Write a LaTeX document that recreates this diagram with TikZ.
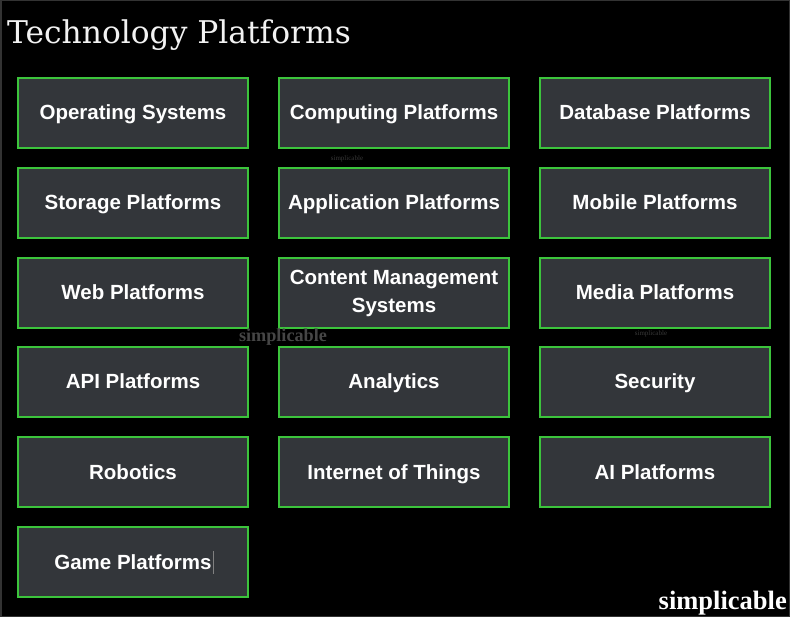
\documentclass[tikz,border=0pt]{standalone}
\usepackage{fontspec}
\setmainfont{Liberation Sans}
\newfontfamily\titlefont{DejaVu Serif}
\newfontfamily\markfont{Liberation Serif}
\definecolor{boxfill}{HTML}{33363A}
\definecolor{boxedge}{HTML}{3CC43C}
\definecolor{titlegray}{HTML}{F2F2F2}
\begin{document}
\begin{tikzpicture}[x=1pt, y=-1pt,
    platbox/.style={draw=boxedge, line width=2pt, fill=boxfill, minimum width=230pt,
        minimum height=70pt, inner sep=0pt, align=center, text=white,
        font=\fontsize{20.5}{28}\selectfont\bfseries},
    oneline/.style={platbox, text height=14pt, text depth=0pt}]
    % background with a thin frame
    \fill[black] (0,0) rectangle (790,617);
    \draw[gray!40!black, line width=1.5pt] (0.75,0.75) rectangle (789.25,616.25);
    \node[anchor=base west, text=titlegray, inner sep=0pt, font=\titlefont\fontsize{31.3}{36}\selectfont]
        (title) at (7,44) {Technology Platforms};
    % column 1
    \node[oneline] (os) at (133,113) {Operating Systems};
    \node[oneline] (storage) at (133,203) {Storage Platforms};
    \node[oneline] (web) at (133,293) {Web Platforms};
    \node[oneline] (api) at (133,382) {API Platforms};
    \node[oneline] (robotics) at (133,472) {Robotics};
    \node[oneline] (game) at (133,562) {Game Platforms};
    % column 2
    \node[oneline] (computing) at (394,113) {Computing Platforms};
    \node[oneline] (application) at (394,203) {Application Platforms};
    \node[platbox] (cms) at (394,293) {Content Management\\Systems};
    \node[oneline] (analytics) at (394,382) {Analytics};
    \node[oneline] (iot) at (394,472) {Internet of Things};
    % column 3
    \node[oneline] (database) at (655,113) {Database Platforms};
    \node[oneline] (mobile) at (655,203) {Mobile Platforms};
    \node[oneline] (media) at (655,293) {Media Platforms};
    \node[oneline] (security) at (655,382) {Security};
    \node[oneline] (ai) at (655,472) {AI Platforms};
    % cursor mark after Game Platforms
    \draw[gray, line width=0.7pt] (213.5,551) -- (213.5,574);
    % watermarks
    \node[text=gray!45!black, font=\markfont\fontsize{7}{8}\selectfont, inner sep=0pt] (markA) at (347,159) {simplicable};
    \node[text=gray!45!black, font=\markfont\fontsize{7}{8}\selectfont, inner sep=0pt] (markB) at (651,334) {simplicable};
    \node[text=gray!55!black, font=\markfont\bfseries\fontsize{18.2}{20}\selectfont, inner sep=0pt] (markC) at (283,337) {simplicable};
    \node[text=white, font=\markfont\bfseries\fontsize{26.5}{30}\selectfont, inner sep=0pt, anchor=base east] (markD) at (787,609) {simplicable};
\end{tikzpicture}
\end{document}
